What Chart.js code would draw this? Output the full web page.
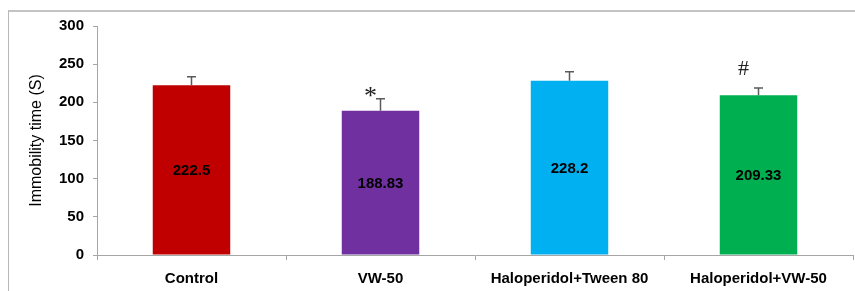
<!DOCTYPE html>
<html>
<head>
<meta charset="utf-8">
<script src="https://cdn.jsdelivr.net/npm/chart.js@4"></script>
<style>
    body { margin: 0; background: #fff; }
    #frame {
        position: absolute; left: 8px; top: 10px; width: 855px; height: 290px;
        border-left: 1px solid #b8b8b8; border-top: 2px solid #c4c4c4;
    }
    #wrap { position: absolute; left: 0; top: 0; width: 855px; height: 291px; }
</style>
</head>
<body>
<div id="frame"></div>
<div id="wrap"><canvas id="myChart" width="855" height="291"></canvas></div>
<script>
// dados
const grupos = ['Control', 'VW-50', 'Haloperidol+Tween 80', 'Haloperidol+VW-50']
const medias = [222.5, 188.83, 228.2, 209.33]
const erros = [11, 16, 12, 9.5]
const marcas = ['', '*', '', '#']
const yTicks = [0, 50, 100, 150, 200, 250, 300]

const cores = ['#C00000', '#7030A0', '#00B0F0', '#00B050']

// barras de erro, valores dentro das barras e marcas de significancia
const extras = {
    id: 'extras',
    afterDatasetsDraw(chart) {
        const ctx = chart.ctx
        const y = chart.scales.y
        const meta = chart.getDatasetMeta(0)
        ctx.save()
        meta.data.forEach((bar, i) => {
            const topo = y.getPixelForValue(medias[i] + erros[i])
            // erro
            ctx.strokeStyle = '#5a5a5a'
            ctx.lineWidth = 1.5
            ctx.beginPath()
            ctx.moveTo(bar.x, bar.y)
            ctx.lineTo(bar.x, topo)
            ctx.moveTo(bar.x - 4.5, topo)
            ctx.lineTo(bar.x + 4.5, topo)
            ctx.stroke()

            // valor
            ctx.fillStyle = '#000'
            ctx.font = 'bold 15px "Liberation Sans", Arial, sans-serif'
            ctx.textAlign = 'center'
            ctx.textBaseline = 'middle'
            ctx.fillText(String(medias[i]), bar.x, (bar.y + bar.base) / 2 + 1)

            // marca
            if (marcas[i]) {
                ctx.fillStyle = '#222'
                if (marcas[i] == '*') {
                    ctx.font = '26px "Liberation Serif", "DejaVu Serif", serif'
                    ctx.fillText('*', bar.x - 10, topo - 1)
                } else {
                    ctx.font = '22px "Liberation Serif", "DejaVu Serif", serif'
                    ctx.fillText('#', bar.x - 15, topo - 19)
                }
            }
        })
        ctx.restore()
    }
}

const ctx = document.getElementById('myChart')

new Chart(ctx, {
    type: 'bar',
    data: {
        labels: grupos,
        datasets: [{
            data: medias,
            backgroundColor: cores,
            borderWidth: 0,
            barPercentage: 0.82,
            categoryPercentage: 0.5
        }]
    },
    options: {
        responsive: false,
        animation: false,
        events: [],
        layout: {
            padding: { top: 26, right: 2, left: 0, bottom: 0 }
        },
        scales: {
            x: {
                afterFit(s) { s.height = 36 },
                grid: {
                    offset: true,
                    drawOnChartArea: false,
                    drawTicks: true,
                    tickLength: 5,
                    color: '#a6a6a6'
                },
                border: { display: true, color: '#a6a6a6', width: 1 },
                ticks: {
                    color: '#000',
                    padding: 10,
                    maxRotation: 0,
                    font: { family: '"Liberation Sans", Arial, sans-serif', size: 15, weight: 'bold' }
                }
            },
            y: {
                min: 0,
                max: 300,
                afterFit(s) { s.width = 97 },
                afterBuildTicks(s) { s.ticks = yTicks.map(v => ({ value: v })) },
                grid: {
                    drawOnChartArea: false,
                    drawTicks: true,
                    tickLength: 4,
                    color: '#a6a6a6'
                },
                border: { display: true, color: '#a6a6a6', width: 1 },
                ticks: {
                    color: '#000',
                    padding: 9,
                    font: { family: '"Liberation Sans", Arial, sans-serif', size: 15, weight: 'bold' }
                },
                title: {
                    display: true,
                    text: 'Immobility time (S)',
                    color: '#000',
                    padding: { top: 27, bottom: 0 },
                    font: { family: '"Liberation Sans", Arial, sans-serif', size: 16 }
                }
            }
        },
        plugins: {
            legend: { display: false },
            tooltip: { enabled: false }
        }
    },
    plugins: [extras]
})
</script>
</body>
</html>
